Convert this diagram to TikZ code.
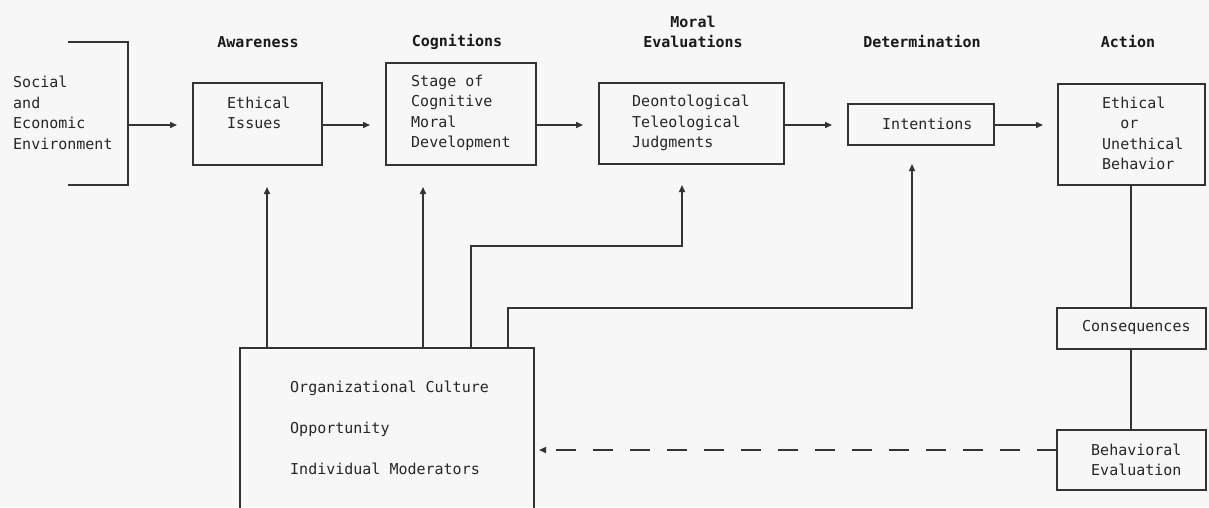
\documentclass[tikz,border=0pt]{standalone}
\usepackage{fontspec}
\newfontfamily\monofam{DejaVu Sans Mono}
\usetikzlibrary{arrows.meta}
\tikzset{
  ink/.style={draw=black!80, line width=1.5pt},
  box/.style={ink, rectangle, inner sep=0pt, outer sep=0pt},
  txt/.style={inner sep=0pt, text=black!85, font=\monofam\fontsize{15}{20.5}\selectfont, align=left},
  head/.style={inner sep=0pt, text=black!90, font=\monofam\bfseries\fontsize{15}{20}\selectfont, align=center},
  arr/.style={ink, -{Triangle[length=7pt,width=6pt]}},
  dasharr/.style={arr, dash pattern=on 20pt off 17pt}
}
\begin{document}
\begin{tikzpicture}[x=1pt,y=-1pt]
\useasboundingbox (0,0) rectangle (1209,507);
\fill[black!3] (0,0) rectangle (1209,507);
\clip (0,0) rectangle (1209,507);

% helper coordinates
\coordinate (row) at (0,125);
\coordinate (brk) at (128,125);
\coordinate (xa) at (267,0);
\coordinate (xb) at (423,0);
\coordinate (c1) at (471,246);
\coordinate (xc) at (682,0);
\coordinate (c2) at (508,308);
\coordinate (xd) at (912,0);
\coordinate (xe) at (1131,0);
\coordinate (rowb) at (0,450);

% headings
\node[head] (hawa) at (258,42) {Awareness};
\node[head] (hcog) at (457,42) {Cognitions};
\node[head] (hmor) at (693,32) {Moral\\Evaluations};
\node[head] (hdet) at (922,42) {Determination};
\node[head] (hact) at (1128,42) {Action};

% boxes
\node[box, minimum width=129pt, minimum height=82pt] (ethical) at (257.5,124) {};
\node[box, minimum width=150pt, minimum height=102pt] (cog) at (461,114) {};
\node[box, minimum width=185pt, minimum height=81pt] (moral) at (691.5,123.5) {};
\node[box, minimum width=146pt, minimum height=41pt] (intent) at (921,124.5) {};
\node[box, minimum width=147pt, minimum height=101pt] (action) at (1131.5,134.5) {};
\node[box, minimum width=149pt, minimum height=41pt] (cons) at (1131.5,328.5) {};
\node[box, minimum width=149pt, minimum height=60pt] (behav) at (1131.5,460) {};
\node[box, minimum width=294pt, minimum height=222pt] (big) at (387,459) {};

% texts
\node[txt, anchor=west] (tsoc) at (13,113) {Social\\and\\Economic\\Environment};
\node[txt, anchor=west] (teth) at (227,113) {Ethical\\Issues};
\node[txt, anchor=west] (tcog) at (411,113) {Stage of\\Cognitive\\Moral\\Development};
\node[txt, anchor=west] (tmor) at (632,123) {Deontological\\Teleological\\Judgments};
\node[txt, anchor=west] (tint) at (882,124) {Intentions};
\node[txt, anchor=west] (tact) at (1102,133.5) {Ethical\\\phantom{Et}or\\Unethical\\Behavior};
\node[txt, anchor=west] (tcon) at (1082,327.5) {Consequences};
\node[txt, anchor=west] (tbeh) at (1091,460) {Behavioral\\Evaluation};
\node[txt, anchor=west] (tbig) at (290,428) {Organizational Culture\\[20.5pt]Opportunity\\[20.5pt]Individual Moderators};

% environment bracket
\draw[ink] (68,42) -- (128,42) -- (128,185) -- (68,185);

% main chain
\draw[arr, shorten >=16pt] (brk) -- (ethical.west |- row);
\draw[arr, shorten >=16pt] (ethical.east |- row) -- (cog.west |- row);
\draw[arr, shorten >=16pt] (cog.east |- row) -- (moral.west |- row);
\draw[arr, shorten >=16pt] (moral.east |- row) -- (intent.west |- row);
\draw[arr, shorten >=15pt] (intent.east |- row) -- (action.west |- row);

% moderators feeding upward
\draw[arr, shorten >=22pt] (big.north -| xa) -- (ethical.south -| xa);
\draw[arr, shorten >=22pt] (big.north -| xb) -- (cog.south -| xb);
\draw[arr, shorten >=21pt] (big.north -| c1) -- (c1) -| (moral.south -| xc);
\draw[arr, shorten >=19pt] (big.north -| c2) -- (c2) -| (intent.south -| xd);

% action to consequences to evaluation
\draw[ink] (action.south -| xe) -- (cons.north -| xe);
\draw[ink] (cons.south -| xe) -- (behav.north -| xe);

% feedback
\draw[dasharr, shorten >=5pt] (behav.west |- rowb) -- (big.east |- rowb);
\end{tikzpicture}
\end{document}
